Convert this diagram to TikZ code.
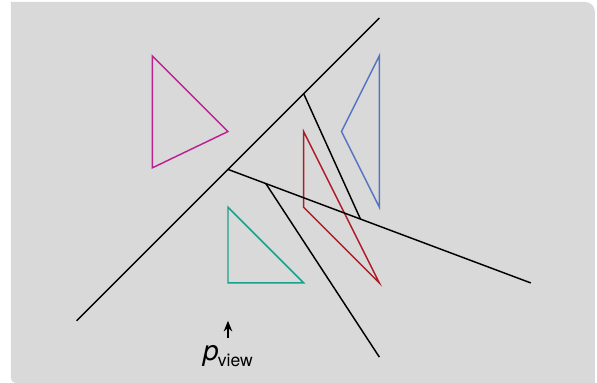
\documentclass[tikz,border=0pt]{standalone}
\usepackage{fontspec}
\setmainfont{TeX Gyre Heros}
\usetikzlibrary{arrows.meta}
\definecolor{bggray}{RGB}{217,217,217}
\definecolor{trimag}{RGB}{185,35,145}
\definecolor{triblue}{RGB}{85,115,190}
\definecolor{trired}{RGB}{170,30,40}
\definecolor{trigreen}{RGB}{25,160,140}
\tikzset{
  splitline/.style={black, line width=0.55pt},
  tri/.style={line width=0.55pt, line join=miter},
}
\begin{document}
\begin{tikzpicture}
\useasboundingbox (-3.012,-1.321) rectangle (4.875,3.738);
\fill[bggray]
  (-2.867,3.712) -- (4.848-0.13,3.712) arc[start angle=90,end angle=0,radius=0.13]
  -- (4.848,-1.321) -- (-2.867+0.06,-1.321) arc[start angle=270,end angle=180,radius=0.06] -- cycle;
% triangles
\draw[tri, trimag] (-1,3) -- (0,2) -- (-1,1.52) -- cycle;
\draw[tri, triblue] (2,3) -- (1.5,2) -- (2,1) -- cycle;
\draw[tri, trired] (1,2) -- (1,1) -- (2,0) -- cycle;
\draw[tri, trigreen] (0,1) -- (0,0) -- (1,0) -- cycle;
% split lines
\coordinate (l1a) at (-2,-0.5);
\coordinate (l1b) at (2,3.5);
\coordinate (l2a) at (0,1.5);
\coordinate (l2b) at (4,0);
\coordinate (l3a) at (1,2.5);
\coordinate (l3b) at (1.75,0.844);
\coordinate (l4a) at (0.5,1.3125);
\coordinate (l4b) at (2,-0.98);
\draw[splitline] (l1a) -- (l1b);
\draw[splitline] (l2a) -- (l2b);
\draw[splitline] (l3a) -- (l3b);
\draw[splitline] (l4a) -- (l4b);
% viewpoint
\coordinate (va) at (0,-0.73);
\coordinate (vb) at (0,-0.50);
\draw[line width=0.55pt, -{Stealth[length=4pt,width=3.2pt]}] (va) -- (vb);
\node[inner sep=1pt] (pview) at (0,-0.97) {\fontsize{10.5}{12}\selectfont\textit{p}\kern-0.3pt\raisebox{-0.4ex}{\fontsize{6.6}{8}\selectfont view}};
\end{tikzpicture}
\end{document}
